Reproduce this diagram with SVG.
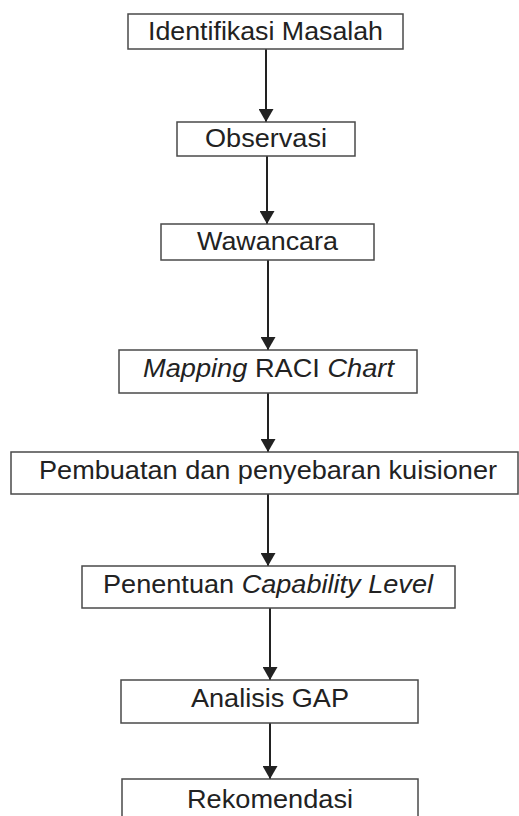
<svg xmlns="http://www.w3.org/2000/svg" width="519" height="816" viewBox="0 0 519 816">
<defs>
<style>
.box{fill:#fff;stroke:#4a4a4a;stroke-width:1.5}
.lbl{font-family:"Liberation Sans",Arial,sans-serif;font-size:25.5px;fill:#222;text-anchor:middle}
.it{font-style:italic}
.con{stroke:#222;stroke-width:2;fill:none;marker-end:url(#ah)}
</style>
<marker id="ah" markerUnits="userSpaceOnUse" markerWidth="13" markerHeight="15" refX="13" refY="7.5" orient="auto" viewBox="0 0 13 15">
<path d="M0,0 L13,7.5 L0,15 z" fill="#222"/>
</marker>
</defs>
<rect width="519" height="816" fill="#fff"/>
<g id="connectors">
<line class="con" x1="266" y1="49" x2="266" y2="122"/>
<line class="con" x1="267" y1="156" x2="267" y2="224"/>
<line class="con" x1="268" y1="260" x2="268" y2="350"/>
<line class="con" x1="268" y1="393" x2="268" y2="452"/>
<line class="con" x1="268" y1="494" x2="268" y2="566"/>
<line class="con" x1="270" y1="608" x2="270" y2="680"/>
<line class="con" x1="270" y1="723" x2="270" y2="779"/>
</g>
<g id="n1">
<rect class="box" x="128" y="14" width="275" height="35"/>
<text class="lbl" x="265.5" y="40" textLength="235" lengthAdjust="spacingAndGlyphs">Identifikasi Masalah</text>
</g>
<g id="n2">
<rect class="box" x="177" y="122" width="178" height="34"/>
<text class="lbl" x="266" y="147" textLength="122" lengthAdjust="spacingAndGlyphs">Observasi</text>
</g>
<g id="n3">
<rect class="box" x="161" y="224" width="213" height="36"/>
<text class="lbl" x="267.5" y="250" textLength="141" lengthAdjust="spacingAndGlyphs">Wawancara</text>
</g>
<g id="n4">
<rect class="box" x="119" y="350" width="298" height="43"/>
<text class="lbl" x="268.5" y="377" textLength="251" lengthAdjust="spacingAndGlyphs"><tspan class="it">Mapping</tspan> RACI <tspan class="it">Chart</tspan></text>
</g>
<g id="n5">
<rect class="box" x="11" y="452" width="507" height="42"/>
<text class="lbl" x="268" y="479" textLength="458" lengthAdjust="spacingAndGlyphs">Pembuatan dan penyebaran kuisioner</text>
</g>
<g id="n6">
<rect class="box" x="82" y="566" width="373" height="42"/>
<text class="lbl" x="268" y="593" textLength="330" lengthAdjust="spacingAndGlyphs">Penentuan <tspan class="it">Capability Level</tspan></text>
</g>
<g id="n7">
<rect class="box" x="121" y="680" width="297" height="43"/>
<text class="lbl" x="270" y="707" textLength="158" lengthAdjust="spacingAndGlyphs">Analisis GAP</text>
</g>
<g id="n8">
<rect class="box" x="122" y="779" width="296" height="45"/>
<text class="lbl" x="270" y="808" textLength="166" lengthAdjust="spacingAndGlyphs">Rekomendasi</text>
</g>
</svg>
